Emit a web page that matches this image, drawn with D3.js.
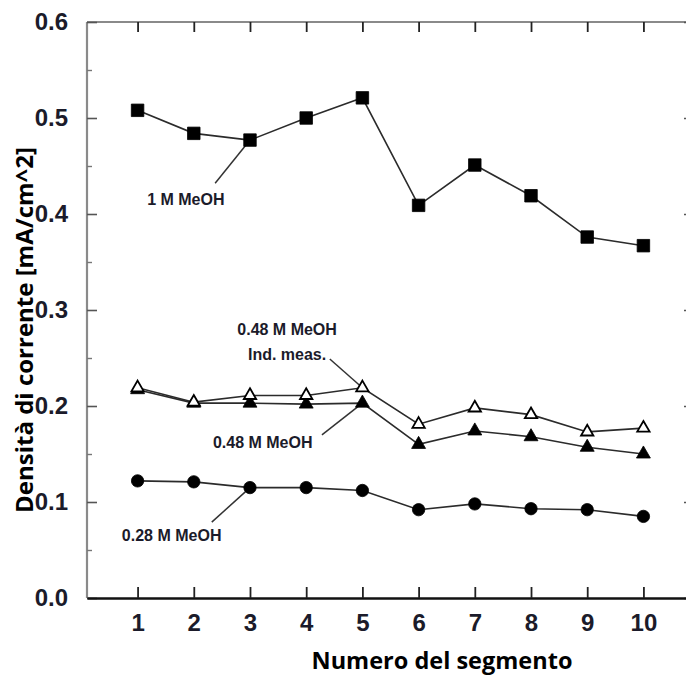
<!DOCTYPE html>
<html>
<head>
<meta charset="utf-8">
<script src="https://cdn.jsdelivr.net/npm/d3@7"></script>
<style>
  body { margin: 0; background: #fff; }
  svg { display: block; }
</style>
</head>
<body>
<svg id="chart" width="686" height="676"></svg>
<script>
// Segment numbers along the cell
const segments = [1, 2, 3, 4, 5, 6, 7, 8, 9, 10];

// Current density per segment [mA/cm^2]
const meoh1M      = [0.508, 0.484, 0.477, 0.500, 0.521, 0.409, 0.451, 0.419, 0.376, 0.367];
const meoh048Ind  = [0.219, 0.204, 0.211, 0.211, 0.219, 0.181, 0.198, 0.191, 0.173, 0.177];
const meoh048     = [0.217, 0.203, 0.203, 0.202, 0.203, 0.160, 0.174, 0.168, 0.157, 0.150];
const meoh028     = [0.122, 0.121, 0.115, 0.115, 0.112, 0.092, 0.098, 0.093, 0.092, 0.085];

// Axis ticks and labels
const yTicks = [0.0, 0.1, 0.2, 0.3, 0.4, 0.5, 0.6];
const yMinorTicks = [0.05, 0.15, 0.25, 0.35, 0.45, 0.55];
const xTicks = segments;
const xTitle = "Numero del segmento";
const yTitle = "Densità di corrente [mA/cm^2]";

const series = [
  { name: "1 M MeOH",               values: meoh1M,     symbol: d3.symbolSquare,   size: 156, fill: "#000" },
  { name: "0.28 M MeOH",            values: meoh028,    symbol: d3.symbolCircle,   size: 120, fill: "#000" },
  { name: "0.48 M MeOH",            values: meoh048,    symbol: d3.symbolTriangle, size: 84,  fill: "#000" },
  { name: "0.48 M MeOH Ind. meas.", values: meoh048Ind, symbol: d3.symbolTriangle, size: 66,  fill: "#fff" }
];

// Callouts: text lines anchored in data units, leader from a data point to the text
const callouts = [
  { lines: ["1 M MeOH"],                 x: 1.17, y: 0.409, anchor: "start",  series: 0, point: 2, from: [2.38, 0.432] },
  { lines: ["0.48 M MeOH", "Ind. meas."], x: 3.66, y: 0.274, anchor: "middle", series: 3, point: 4, from: [4.42, 0.249] },
  { lines: ["0.48 M MeOH"],              x: 2.34, y: 0.156, anchor: "start",  series: 2, point: 4, from: [4.28, 0.170] },
  { lines: ["0.28 M MeOH"],              x: 0.72, y: 0.059, anchor: "start",  series: 1, point: 2, from: [2.32, 0.079] }
];

const svg = d3.select("#chart");
const mLeft = 87, mRight = 694, mTop = 22, mBottom = 598;

const x = d3.scaleLinear().domain([0.1, 10.9]).range([mLeft, mRight]);
const y = d3.scaleLinear().domain([0, 0.6]).range([mBottom, mTop]);

const tickFont = "'Liberation Sans', Arial, sans-serif";
const titleFont = "'Open Sans', 'Noto Sans', sans-serif";

// Frame: grey top and sides, black bottom
svg.append("line").attr("x1", mLeft).attr("x2", mRight).attr("y1", mTop).attr("y2", mTop)
  .attr("stroke", "#8a8a8a").attr("stroke-width", 2.2);
svg.append("line").attr("x1", mLeft).attr("x2", mLeft).attr("y1", mTop).attr("y2", mBottom)
  .attr("stroke", "#8a8a8a").attr("stroke-width", 2.2);
svg.append("line").attr("x1", mRight).attr("x2", mRight).attr("y1", mTop).attr("y2", mBottom)
  .attr("stroke", "#8a8a8a").attr("stroke-width", 2.2);

// Left axis (ticks inward)
const yAxis = d3.axisLeft(y).tickValues(yTicks).tickFormat(d3.format(".1f")).tickSizeInner(-10).tickSizeOuter(0).tickPadding(19);
const gy = svg.append("g").attr("transform", `translate(${mLeft},0)`).call(yAxis);
gy.select(".domain").remove();
gy.selectAll(".tick line").attr("stroke", "#555").attr("stroke-width", 1.6);
gy.selectAll(".tick text")
  .attr("font-family", tickFont).attr("font-weight", "bold").attr("font-size", 24)
  .attr("fill", "#1b1b2a");

const yMinor = d3.axisLeft(y).tickValues(yMinorTicks).tickFormat("").tickSizeInner(-5).tickSizeOuter(0);
const gym = svg.append("g").attr("transform", `translate(${mLeft},0)`).call(yMinor);
gym.select(".domain").remove();
gym.selectAll(".tick line").attr("stroke", "#777").attr("stroke-width", 1.4);

// Right axis ticks (inward)
const gr = svg.append("g").attr("transform", `translate(${mRight},0)`)
  .call(d3.axisRight(y).tickValues(yTicks).tickFormat("").tickSizeInner(-10).tickSizeOuter(0));
gr.select(".domain").remove();
gr.selectAll(".tick line").attr("stroke", "#555").attr("stroke-width", 1.6);
const grm = svg.append("g").attr("transform", `translate(${mRight},0)`)
  .call(d3.axisRight(y).tickValues(yMinorTicks).tickFormat("").tickSizeInner(-5).tickSizeOuter(0));
grm.select(".domain").remove();
grm.selectAll(".tick line").attr("stroke", "#777").attr("stroke-width", 1.4);

// Top axis ticks (inward)
const gt = svg.append("g").attr("transform", `translate(0,${mTop})`)
  .call(d3.axisTop(x).tickValues(xTicks).tickFormat("").tickSizeInner(-10).tickSizeOuter(0));
gt.select(".domain").remove();
gt.selectAll(".tick line").attr("stroke", "#222").attr("stroke-width", 1.8);

// Bottom axis (ticks inward)
const xAxis = d3.axisBottom(x).tickValues(xTicks).tickFormat(d3.format("d")).tickSizeInner(-11).tickSizeOuter(0).tickPadding(16);
const gx = svg.append("g").attr("transform", `translate(0,${mBottom})`).call(xAxis);
gx.select(".domain").attr("stroke", "#111").attr("stroke-width", 2.6);
gx.selectAll(".tick line").attr("stroke", "#222").attr("stroke-width", 1.8);
gx.selectAll(".tick text")
  .attr("font-family", tickFont).attr("font-weight", "bold").attr("font-size", 24)
  .attr("fill", "#1b1b2a");

// Axis titles
svg.append("text")
  .attr("x", 442).attr("y", 669)
  .attr("text-anchor", "middle")
  .attr("font-family", titleFont)
  .attr("font-weight", "bold").attr("font-size", 23.5)
  .attr("fill", "#000")
  .text(xTitle);

svg.append("text")
  .attr("transform", `translate(33,330) rotate(-90)`)
  .attr("text-anchor", "middle")
  .attr("font-family", titleFont)
  .attr("font-weight", "bold").attr("font-size", 24)
  .attr("fill", "#000")
  .text(yTitle);

// Callout leaders
const plot = svg.append("g");
callouts.forEach(c => {
  const s = series[c.series];
  plot.append("line")
    .attr("x1", x(c.from[0])).attr("y1", y(c.from[1]))
    .attr("x2", x(segments[c.point])).attr("y2", y(s.values[c.point]))
    .attr("stroke", "#333").attr("stroke-width", 1.5);
});

// Series lines and markers
const line = d3.line().x((d, i) => x(segments[i])).y(d => y(d));
series.forEach(s => {
  plot.append("path")
    .datum(s.values)
    .attr("d", line)
    .attr("fill", "none")
    .attr("stroke", "#2b2b2b")
    .attr("stroke-width", 1.6);
});
series.forEach(s => {
  plot.selectAll(null)
    .data(s.values)
    .join("path")
    .attr("transform", (d, i) => `translate(${x(segments[i])},${y(d)})`)
    .attr("d", d3.symbol().type(s.symbol).size(s.size))
    .attr("fill", s.fill)
    .attr("stroke", "#000")
    .attr("stroke-width", s.fill === "#fff" ? 1.8 : 0.8);
});

// Callout text
callouts.forEach(c => {
  const t = svg.append("text")
    .attr("x", x(c.x)).attr("y", y(c.y))
    .attr("text-anchor", c.anchor)
    .attr("font-family", tickFont).attr("font-weight", "bold").attr("font-size", 16)
    .attr("fill", "#1b1b2a");
  c.lines.forEach((ln, k) => {
    t.append("tspan").attr("x", x(c.x)).attr("dy", k === 0 ? 0 : 25).text(ln);
  });
});
</script>
</body>
</html>
